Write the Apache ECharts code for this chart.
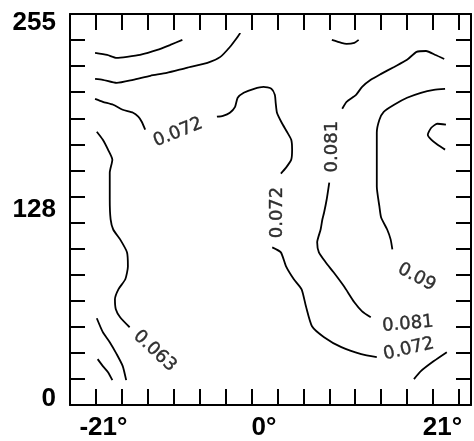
<!DOCTYPE html>
<html><head><meta charset="utf-8">
<script src="https://cdn.jsdelivr.net/npm/echarts@6/dist/echarts.min.js"></script>
<style>html,body{margin:0;padding:0;background:#fff}#c{width:474px;height:441px}</style>
</head><body><div id="c"></div>
<script>
// tick labels
const xTickLabels = [-21, 0, 21];
const yTickLabels = [0, 128, 255];

// contour lines, [degrees, row]
const lineTopA = [[-21.1,234.4],[-19.7,233.0],[-18.6,231.0],[-17.4,231.7],[-15.9,233.0],[-13.9,236.4],[-12.4,239.8],[-11.0,243.2]];
const lineTopB = [[-21.1,216.8],[-20.2,216.2],[-18.6,214.1],[-16.7,216.2],[-14.7,218.9],[-12.8,220.9],[-10.5,224.3],[-8.1,227.6],[-6.6,231.7],[-5.5,238.4],[-4.7,244.5],[-4.3,247.9]];
const c072a = [[-21.1,203.3],[-20.2,201.3],[-19.0,199.3],[-17.9,195.9],[-16.7,193.9],[-16.1,191.2],[-15.7,187.8],[-15.3,182.4]];
const c072b = [[-7.0,191.2],[-6.3,191.8],[-5.5,193.9],[-4.9,197.9],[-4.6,204.0],[-3.9,207.4],[-2.7,210.1],[-1.6,211.4],[-0.7,210.1],[-0.3,206.0],[-0.2,200.6],[-0.05,193.9],[0.5,187.1],[1.1,181.0],[1.6,175.6],[1.7,168.9],[1.6,162.1],[1.0,156.7],[0.4,152.7]];
const c072c = [[-0.6,102.7],[0.4,99.3],[1.0,89.8],[1.9,81.1],[2.8,74.3],[3.3,62.8],[4.0,49.3],[5.4,41.9],[7.4,35.1],[9.7,30.4],[11.5,28.4]];
const c072d = [[15.8,13.5],[16.6,18.9],[18.1,25.7],[19.6,31.7]];
const c081a = [[7.5,196.6],[8.0,201.3],[9.1,206.0],[9.8,211.4],[10.8,216.2],[12.0,220.2],[13.5,224.9],[15.0,229.7],[16.1,235.1],[17.2,235.7],[18.3,233.0],[19.3,230.3]];
const c081b = [[6.0,146.6],[5.7,135.1],[5.4,126.3],[5.2,121.6],[5.0,114.8],[4.6,106.1],[4.8,99.3],[5.6,92.5],[6.5,85.8],[7.7,76.3],[8.9,65.5],[9.8,59.4],[10.8,55.4]];
const c090 = [[19.4,210.1],[18.1,209.4],[16.6,207.4],[15.0,204.0],[13.5,199.3],[12.3,194.5],[11.8,189.1],[11.5,180.4],[11.5,168.9],[11.5,157.4],[11.5,143.9],[11.8,130.4],[12.0,122.9],[12.7,114.8],[13.1,108.1],[13.3,101.3]];
const hookRight = [[19.5,185.8],[18.5,186.4],[17.8,183.7],[17.4,179.0],[17.8,175.6],[18.5,172.3],[19.4,168.9]];
const dipTop = [[6.3,243.2],[7.4,241.2],[8.0,240.5],[8.9,241.2],[9.4,243.2]];
const c063 = [[-20.9,181.0],[-20.2,175.6],[-19.6,168.9],[-19.1,162.1],[-19.4,153.3],[-19.4,143.9],[-19.4,135.1],[-19.3,121.6],[-19.0,114.8],[-18.2,108.1],[-17.4,99.3],[-17.3,89.8],[-17.6,81.1],[-18.4,74.3],[-18.8,67.5],[-18.7,60.8],[-18.2,55.4],[-17.1,48.6]];
const lowLeftA = [[-20.9,54.7],[-20.2,45.3],[-19.4,38.5],[-18.6,30.4],[-17.9,22.3],[-17.5,12.8]];
const lowLeftB = [[-20.8,27.0],[-20.2,22.3],[-19.6,18.2],[-19.1,12.8]];

// contour labels
const labelText = ['0.072','0.072','0.081','0.063','0.09','0.081','0.072'];
const labelX = [-11.5,-0.05,6.4,-14.2,16.1,15.1,15.2];
const labelY = [180.4,126.3,170.9,32.4,82.4,50.7,33.8];
const labelAngle = [22,90,90,-43,-28,5,13];

const lines = [lineTopA,lineTopB,c072a,c072b,c072c,c072d,c081a,c081b,c090,hookRight,dipTop,c063,lowLeftA,lowLeftB];

const chart = echarts.init(document.getElementById('c'), null, {renderer:'canvas'});
const frameLine = {show:true, onZero:false, lineStyle:{color:'#000', width:2}};
const tickStyle = {color:'#000', width:2};
const boldFont = {color:'#000', fontFamily:'Liberation Sans', fontWeight:'bold', fontSize:26};

const series = lines.map(d => ({
  type:'line', data:d, xAxisIndex:0, yAxisIndex:0, symbol:'none', smooth:0.2,
  lineStyle:{color:'#000', width:1.8}, silent:true, animation:false
}));
series.push({
  type:'scatter', xAxisIndex:0, yAxisIndex:0, symbolSize:0, silent:true, animation:false,
  label:{show:true, position:'inside', color:'#000', fontFamily:'DejaVu Sans', fontSize:18,
         textBorderColor:'#000', textBorderWidth:0.4},
  data: labelText.map((t,i) => ({value:[labelX[i], labelY[i]], label:{formatter:t, rotate:labelAngle[i]}}))
});

chart.setOption({
  animation:false,
  backgroundColor:'#fff',
  grid:{left:70, right:3, top:14, bottom:35},
  xAxis:[
    {type:'value', position:'bottom', min:-24, max:22.4, interval:3,
     axisLine:frameLine, axisTick:{show:true, inside:true, length:16, lineStyle:tickStyle},
     splitLine:{show:false},
     axisLabel:{show:true, customValues:xTickLabels, margin:10,
       formatter: v => { const r = Math.round(v); return r < 0 ? '{a|' + r + '°}' : (r === 0 ? '{b|0°}' : '{c|' + r + '°}'); },
       rich:{
         a:Object.assign({padding:[0,0,0,15]}, boldFont),
         b:Object.assign({padding:[0,27,0,0]}, boldFont),
         c:Object.assign({padding:[0,33,0,0]}, boldFont)
       }}},
    {type:'value', position:'top', min:-24, max:22.4, interval:3,
     axisLine:frameLine, axisTick:{show:true, inside:true, length:16, lineStyle:tickStyle},
     splitLine:{show:false}, axisLabel:{show:false}}
  ],
  yAxis:[
    {type:'value', position:'left', min:-4.05, max:260.74,
     axisLine:{show:false}, axisTick:{show:false}, splitLine:{show:false},
     axisLabel:Object.assign({show:true, customValues:yTickLabels, margin:14}, boldFont)},
    {type:'value', position:'left', min:0, max:15, interval:1,
     axisLine:frameLine, axisTick:{show:true, inside:true, length:15, lineStyle:tickStyle},
     splitLine:{show:false}, axisLabel:{show:false}},
    {type:'value', position:'right', min:0, max:15, interval:1,
     axisLine:frameLine, axisTick:{show:true, inside:true, length:15, lineStyle:tickStyle},
     splitLine:{show:false}, axisLabel:{show:false}}
  ],
  series: series
});
</script></body></html>
